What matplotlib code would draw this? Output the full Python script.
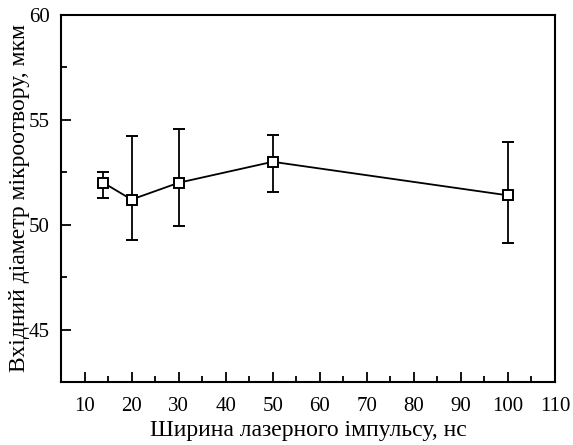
import matplotlib
matplotlib.use("Agg")
import matplotlib.pyplot as plt
from matplotlib.ticker import MultipleLocator

plt.rcParams['font.family'] = ['Liberation Serif', 'DejaVu Serif']

# pulse width, ns
width = [14, 20, 30, 50, 100]
# entrance diameter, um
diam = [52.0, 51.2, 52.0, 53.0, 51.4]
err_low = [51.25, 49.25, 49.95, 51.55, 49.15]
err_high = [52.5, 54.25, 54.55, 54.3, 53.95]

yerr = [[d - lo for d, lo in zip(diam, err_low)],
        [hi - d for d, hi in zip(diam, err_high)]]

fig = plt.figure(figsize=(5.73, 4.45), dpi=100)
ax = fig.add_axes([0.1065, 0.1416, 0.862, 0.8247])

ax.errorbar(width, diam, yerr=yerr, color='black', lw=1.3, elinewidth=1.3,
            capsize=4, capthick=1.5, marker='s', ms=6.5, mfc='white', mec='black',
            mew=1.4)

ax.set_xlim(5, 110)
ax.set_ylim(42.5, 60)
ax.xaxis.set_major_locator(MultipleLocator(10))
ax.xaxis.set_minor_locator(MultipleLocator(5))
ax.yaxis.set_major_locator(MultipleLocator(5))
ax.yaxis.set_minor_locator(MultipleLocator(2.5))
ax.tick_params(which='both', direction='in', top=False, right=False, labelsize=15, width=1.3)
ax.tick_params(which='major', length=7)
ax.tick_params(which='minor', length=4)
ax.tick_params(axis='x', which='major', pad=11)
ax.tick_params(axis='y', which='major', pad=8)
for s in ax.spines.values():
    s.set_linewidth(1.5)

ax.set_xlabel("Ширина лазерного імпульсу, нс", fontsize=17, labelpad=3)
ax.set_ylabel("Вхідний діаметр мікроотвору, мкм", fontsize=17, labelpad=-1)

fig.savefig("out.png", dpi=100)
